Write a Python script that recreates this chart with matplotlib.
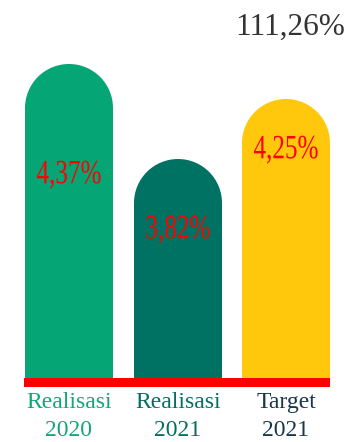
import matplotlib
matplotlib.use('Agg')
import matplotlib.pyplot as plt
from matplotlib.patches import Wedge
from matplotlib.patheffects import AbstractPathEffect
from matplotlib.transforms import Affine2D

# ---- data ---- #
categories = ['Realisasi\n2020', 'Realisasi\n2021', 'Target\n2021']
value_labels = ['4,37%', '3,82%', '4,25%']
bar_heights = [314, 219, 279]          # bar height above the baseline (px)
achievement = '111,26%'

# ---- style ---- #
bar_colors = ['#05a575', '#007264', '#ffc80c']
cat_colors = ['#13a577', '#046e62', '#17384a']
label_y = [267, 212, 292]              # centre of the value label (px from bottom)
bar_x = [69, 178, 286]
bar_w = 88
base = 64

plt.rcParams['font.family'] = ['Liberation Serif', 'DejaVu Serif']


class Squeeze(AbstractPathEffect):
    """Narrow the glyphs horizontally around the text centre."""
    def __init__(self, sx):
        super().__init__()
        self.sx = sx

    def draw_path(self, renderer, gc, tpath, affine, rgbFace=None):
        xs = tpath.vertices[:, 0]
        cx = (xs.min() + xs.max()) / 2
        t = Affine2D().translate(-cx, 0).scale(self.sx, 1).translate(cx, 0) + affine
        renderer.draw_path(gc, tpath, t, rgbFace)


fig = plt.figure(figsize=(3.48, 4.42), dpi=100)
ax = fig.add_axes([0, 0, 1, 1])
ax.set_xlim(0, 348)
ax.set_ylim(0, 442)
ax.axis('off')

r = bar_w / 2
ax.bar(bar_x, [h - r + 0.5 for h in bar_heights], width=bar_w, bottom=base,
       color=bar_colors, linewidth=0)
for x, h, c in zip(bar_x, bar_heights, bar_colors):
    ax.add_patch(Wedge((x, base + h - r), r, 0, 180, color=c, linewidth=0))

# red baseline under the bars
x0 = bar_x[0] - r - 1
x1 = bar_x[-1] + r
ax.fill_between([x0, x1], base - 9, base, color='#ff0000', linewidth=0)

for x, y, t in zip(bar_x, label_y, value_labels):
    ax.text(x, y, t, ha='center', va='center', fontsize=24.5, color='#ff0000',
            path_effects=[Squeeze(0.74)])

for x, cat, c in zip(bar_x, categories, cat_colors):
    line1, line2 = cat.split('\n')
    ax.text(x, 34, line1, ha='center', va='baseline', fontsize=17, color=c)
    ax.text(x, 6, line2, ha='center', va='baseline', fontsize=17, color=c)

ax.text(345, 415, achievement, ha='right', va='center', fontsize=22.5,
        color='#333333')

fig.savefig('out.png', dpi=100)
